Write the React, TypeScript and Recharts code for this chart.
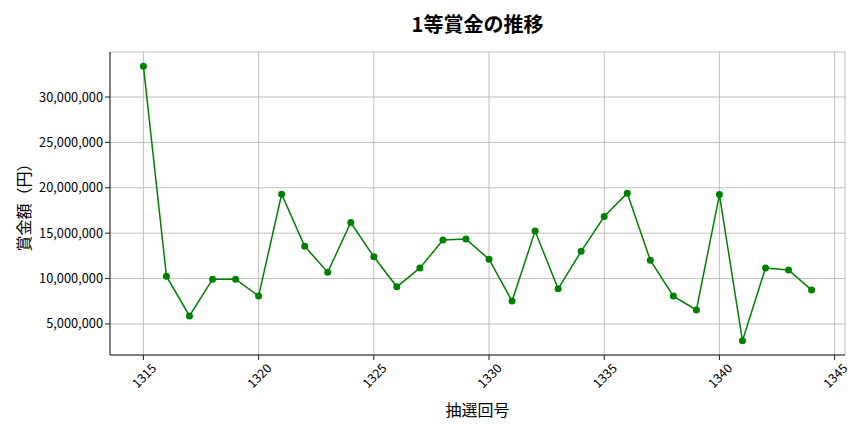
import React from "react";
import {
  LineChart,
  Line,
  XAxis,
  YAxis,
  CartesianGrid,
} from "recharts";

// 抽選回号と1等賞金（グラフから読み取った概算値）
const rounds = [
  1315, 1316, 1317, 1318, 1319, 1320, 1321, 1322, 1323, 1324,
  1325, 1326, 1327, 1328, 1329, 1330, 1331, 1332, 1333, 1334,
  1335, 1336, 1337, 1338, 1339, 1340, 1341, 1342, 1343, 1344,
];
const prizes = [
  33400000, 10260000, 5880000, 9930000, 9930000, 8070000, 19290000, 13550000, 10700000, 16180000,
  12400000, 9090000, 11170000, 14240000, 14350000, 12130000, 7520000, 15230000, 8870000, 13000000,
  16840000, 19400000, 12020000, 8070000, 6540000, 19250000, 3140000, 11170000, 10950000, 8730000,
];
const xTicks = [1315, 1320, 1325, 1330, 1335, 1340, 1345];
const yTicks = [5000000, 10000000, 15000000, 20000000, 25000000, 30000000];

const FONT = "'Noto Sans CJK JP', 'Noto Sans', sans-serif";
const GREEN = "#008000";
const AXIS = "#222";

const data = rounds.map((r, i) => ({ round: r, prize: prizes[i] }));

const fmt = (n: number) => n.toLocaleString("en-US");

function XTick({ x, y, payload }: any) {
  return (
    <g transform={`translate(${x},${y + 13}) rotate(-45)`}>
      <text
        textAnchor="middle"
        dominantBaseline="central"
        fontSize={12.5}
        fontFamily={FONT}
        fill="#000"
      >
        {payload.value}
      </text>
    </g>
  );
}

export default function App() {
  return (
    <div
      style={{
        position: "absolute",
        left: 0,
        top: 0,
        width: 864,
        height: 432,
        background: "#fff",
        fontFamily: FONT,
      }}
    >
      <div
        style={{
          position: "absolute",
          left: 110,
          width: 735,
          top: 9,
          textAlign: "center",
          fontSize: 20,
          fontWeight: 700,
          color: "#000",
        }}
      >
        1等賞金の推移
      </div>
      <LineChart
        width={864}
        height={432}
        data={data}
        margin={{ top: 52, right: 19, bottom: 0, left: 10 }}
      >
        <CartesianGrid stroke="#b0b0b0" strokeWidth={0.8} />
        <XAxis
          dataKey="round"
          type="number"
          domain={[1313.55, 1345.45]}
          allowDataOverflow
          ticks={xTicks}
          interval={0}
          height={77}
          tickSize={5}
          tickLine={{ stroke: AXIS }}
          axisLine={{ stroke: AXIS }}
          tick={<XTick />}
          label={{
            value: "抽選回号",
            position: "insideBottom",
            offset: 16,
            fontSize: 16,
            fontFamily: FONT,
            fill: "#000",
          }}
        />
        <XAxis
          xAxisId="top"
          orientation="top"
          dataKey="round"
          type="number"
          domain={[1313.55, 1345.45]}
          allowDataOverflow
          height={0}
          tick={false}
          tickLine={false}
          axisLine={{ stroke: AXIS }}
        />
        <YAxis
          type="number"
          domain={[1580000, 34960000]}
          allowDataOverflow
          ticks={yTicks}
          interval={0}
          width={100}
          tickSize={5}
          tickLine={{ stroke: AXIS }}
          axisLine={{ stroke: AXIS }}
          tickFormatter={fmt}
          tick={{ fontSize: 12.8, fontFamily: FONT, fill: "#000" }}
          label={{
            value: "賞金額（円）",
            angle: -90,
            position: "insideLeft",
            offset: 14,
            fontSize: 16,
            fontFamily: FONT,
            fill: "#000",
            style: { textAnchor: "middle" },
          }}
        />
        <YAxis
          yAxisId="right"
          orientation="right"
          type="number"
          domain={[1580000, 34960000]}
          width={0}
          tick={false}
          tickLine={false}
          axisLine={{ stroke: AXIS }}
        />
        <Line
          dataKey="prize"
          stroke={GREEN}
          strokeWidth={1.5}
          dot={{ r: 3.5, fill: GREEN, stroke: GREEN, strokeWidth: 0 }}
          activeDot={false}
          isAnimationActive={false}
        />
      </LineChart>
    </div>
  );
}
